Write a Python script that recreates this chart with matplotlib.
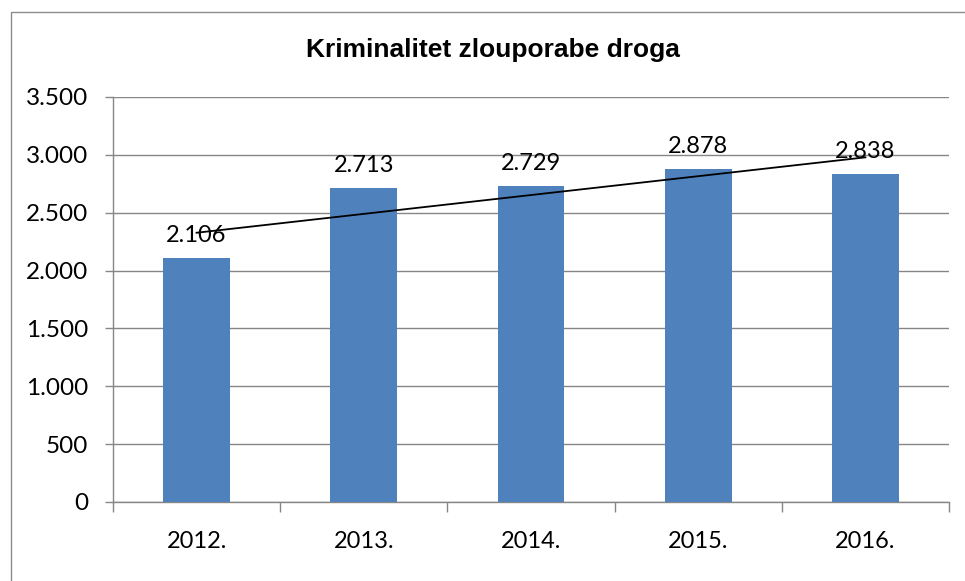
import numpy as np
import matplotlib
matplotlib.use('Agg')
import matplotlib.pyplot as plt
from matplotlib.patches import Rectangle
from matplotlib.ticker import FuncFormatter, FixedLocator

# podaci
godine = ['2012.', '2013.', '2014.', '2015.', '2016.']
kaznena_djela = [2106, 2713, 2729, 2878, 2838]
y_ticks = [0, 500, 1000, 1500, 2000, 2500, 3000, 3500]

plt.rcParams['font.family'] = ['Lato', 'DejaVu Sans']

W, H = 965, 581
fig = plt.figure(figsize=(W / 100, H / 100), dpi=100)
ax = fig.add_axes([113 / W, 1 - 502 / H, (949 - 113) / W, (502 - 97) / H])

siva = '#868686'
x = np.arange(len(godine))
ax.bar(x, kaznena_djela, width=0.4, color='#4F81BD', zorder=3)

# linearni trend
k, b = np.polyfit(x, kaznena_djela, 1)
ax.plot([x[0], x[-1]], [k * x[0] + b, k * x[-1] + b], color='black', lw=1.3, zorder=4)

for xi, v in zip(x, kaznena_djela):
    ax.annotate(f'{v:,}'.replace(',', '.'), (xi, v), xytext=(0, 11.5),
                textcoords='offset points', ha='center', va='baseline',
                fontsize=17, zorder=5)

ax.set_xlim(-0.5, len(godine) - 0.5)
ax.set_ylim(0, 3500)
ax.set_yticks(y_ticks)
ax.yaxis.set_major_formatter(FuncFormatter(lambda v, p: f'{int(v):,}'.replace(',', '.')))
ax.xaxis.set_major_locator(FixedLocator(np.arange(-0.5, len(godine), 1.0)))
ax.xaxis.set_minor_locator(FixedLocator(x))
ax.set_xticklabels([])
ax.set_xticklabels(godine, minor=True)
ax.tick_params(axis='x', which='major', length=7, color=siva, width=1)
ax.tick_params(axis='x', which='minor', length=0, pad=21, labelsize=17)
ax.tick_params(axis='y', length=6, color=siva, width=1, labelsize=17.5, pad=12)

ax.grid(axis='y', color=siva, lw=1.0, zorder=0)
for s in ['top', 'right']:
    ax.spines[s].set_visible(False)
for s in ['left', 'bottom']:
    ax.spines[s].set_color(siva)
    ax.spines[s].set_linewidth(1.0)

fig.text(493 / W, 1 - 50 / H, 'Kriminalitet zlouporabe droga', ha='center', va='center',
         fontsize=19, fontweight='bold', family=['Liberation Sans', 'DejaVu Sans'])

# okvir grafikona
fig.patches.append(Rectangle((11 / W, -0.1), 1.2, 1 - 12 / H + 0.1, transform=fig.transFigure,
                             fill=False, edgecolor='#8c8c8c', lw=1.0))

fig.savefig('out.png', dpi=100)
